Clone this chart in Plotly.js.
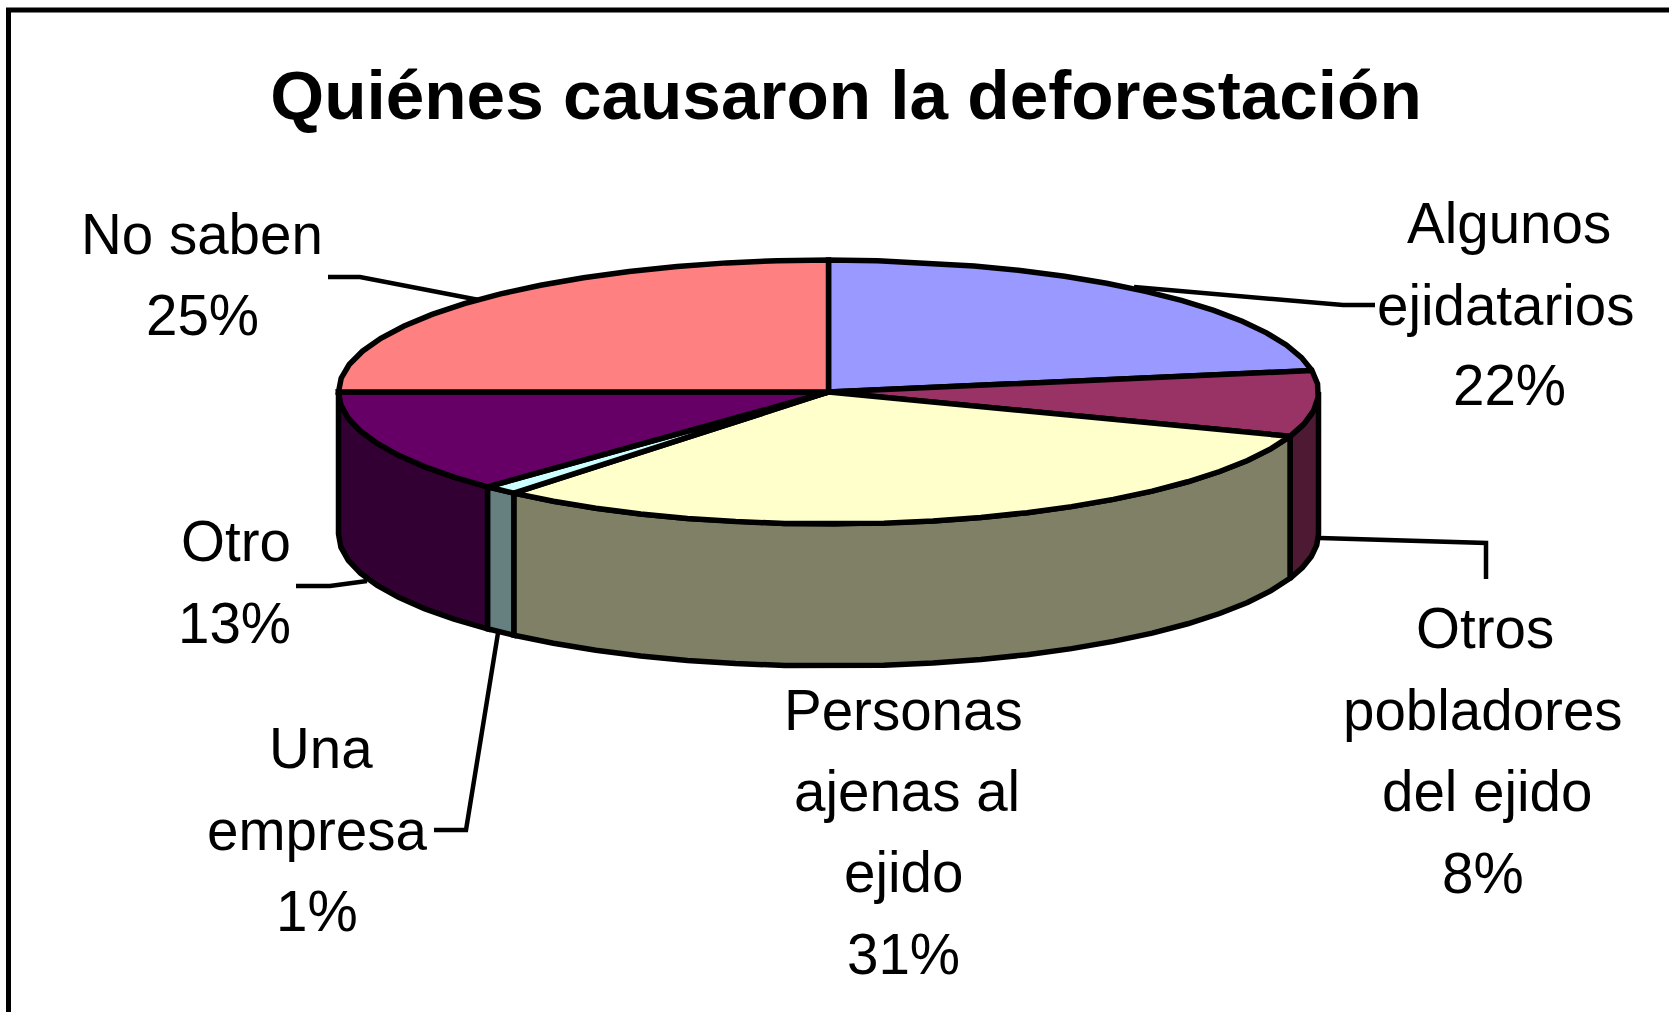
<!DOCTYPE html>
<html><head><meta charset="utf-8">
<script src="https://cdn.plot.ly/plotly-3.0.1.min.js"></script>
<style>html,body{margin:0;padding:0;background:#fff}</style></head>
<body><div id="chart" style="width:1669px;height:1012px"></div>
<script>
const chartTitle = 'Quiénes causaron la deforestación';
const categories = ['Algunos ejidatarios','Otros pobladores del ejido','Personas ajenas al ejido','Una empresa','Otro','No saben'];
const values = [22.4,8.05,30.65,1.15,12.75,25];
const topColors = ['#9999FF','#993366','#FFFFCC','#CCFFFF','#660066','#FF8080'];
const sideColors = ['#4D4D80','#4D1933','#808066','#668080','#330033','#804040'];

const cx=828.5, cy=392, rx=490, ry=132, depth=142, step=6, lw=5.5;
const pt=(deg,dy=0)=>[cx+rx*Math.sin(deg*Math.PI/180), cy-ry*Math.cos(deg*Math.PI/180)+dy];
function arc(a,b,dy){ const out=[]; const n=Math.max(1,Math.ceil((b-a)/step));
  for(let i=0;i<=n;i++) out.push(pt(a+(b-a)*i/n,dy)); return out; }
const total=values.reduce((s,v)=>s+v,0);
const traces=[]; const tops=[]; let acc=0;
values.forEach((v,i)=>{
  const a=acc/total*360, b=(acc+v)/total*360; acc+=v;
  const wa=Math.max(a,90), wb=Math.min(b,270);
  if(wb>wa){
    const p=arc(wa,wb,0).concat(arc(wa,wb,depth).reverse()); p.push(p[0]);
    traces.push({type:'scatter',mode:'lines',x:p.map(q=>q[0]),y:p.map(q=>q[1]),fill:'toself',fillcolor:sideColors[i],
      line:{color:'#000',width:lw},hoverinfo:'text',text:categories[i],showlegend:false});
  }
  const p=[[cx,cy]].concat(arc(a,b,0)); p.push([cx,cy]);
  tops.push({type:'scatter',mode:'lines',x:p.map(q=>q[0]),y:p.map(q=>q[1]),fill:'toself',fillcolor:topColors[i],
    line:{color:'#000',width:lw},hoverinfo:'text',text:categories[i]+' '+Math.round(v)+'%',showlegend:false});
});

const labelLines=[['Algunos','ejidatarios'],['Otros','pobladores','del ejido'],['Personas','ajenas al','ejido'],['Una','empresa'],['Otro'],['No saben']];
const labelX=[[1509,1506,1509],[1485,1483,1487,1483],[903,907,903,903],[321,317,317],[236,234],[202,202]];
const labelY=[[223,305,385],[628,710,791,873],[710,791,872,954],[748,830,911],[541,623],[234,315]];
const annotations=[];
labelLines.forEach((lines,i)=>{
  lines.concat([Math.round(values[i])+'%']).forEach((t,j)=>annotations.push({xref:'x',yref:'y',x:labelX[i][j],y:labelY[i][j],text:t,showarrow:false,
    xanchor:'center',yanchor:'middle',font:{family:'Liberation Sans, Arial, sans-serif',size:56.5,color:'#000'}}));
});
const leaders=[[[1134,287],[1343,305],[1375,305]],[[1320,538],[1486,543],[1486,579]],[[498,633],[466,830],[434,830]],[[367,581],[330,586],[296,586]],[[479,300],[360,277],[328,277]]];
const shapes=leaders.map(l=>({type:'path',path:'M'+l.map(q=>q.join(',')).join('L'),line:{color:'#000',width:4.5},layer:'below'}));
shapes.push({type:'path',path:'M8.5,1012L8.5,10L1669,10',line:{color:'#000',width:5},layer:'above'});

Plotly.newPlot('chart',traces.concat(tops),{
  width:1669,height:1012,margin:{l:0,r:0,t:0,b:0},paper_bgcolor:'#fff',plot_bgcolor:'#fff',showlegend:false,
  title:{text:chartTitle,x:846/1669,xanchor:'center',y:1-95/1012,yanchor:'middle',font:{family:'Liberation Sans, Arial, sans-serif',size:69.3,color:'#000',weight:700}},
  xaxis:{range:[0,1669],visible:false,fixedrange:true},
  yaxis:{range:[1012,0],visible:false,fixedrange:true},
  annotations,shapes
},{displayModeBar:false,responsive:false});
</script></body></html>
